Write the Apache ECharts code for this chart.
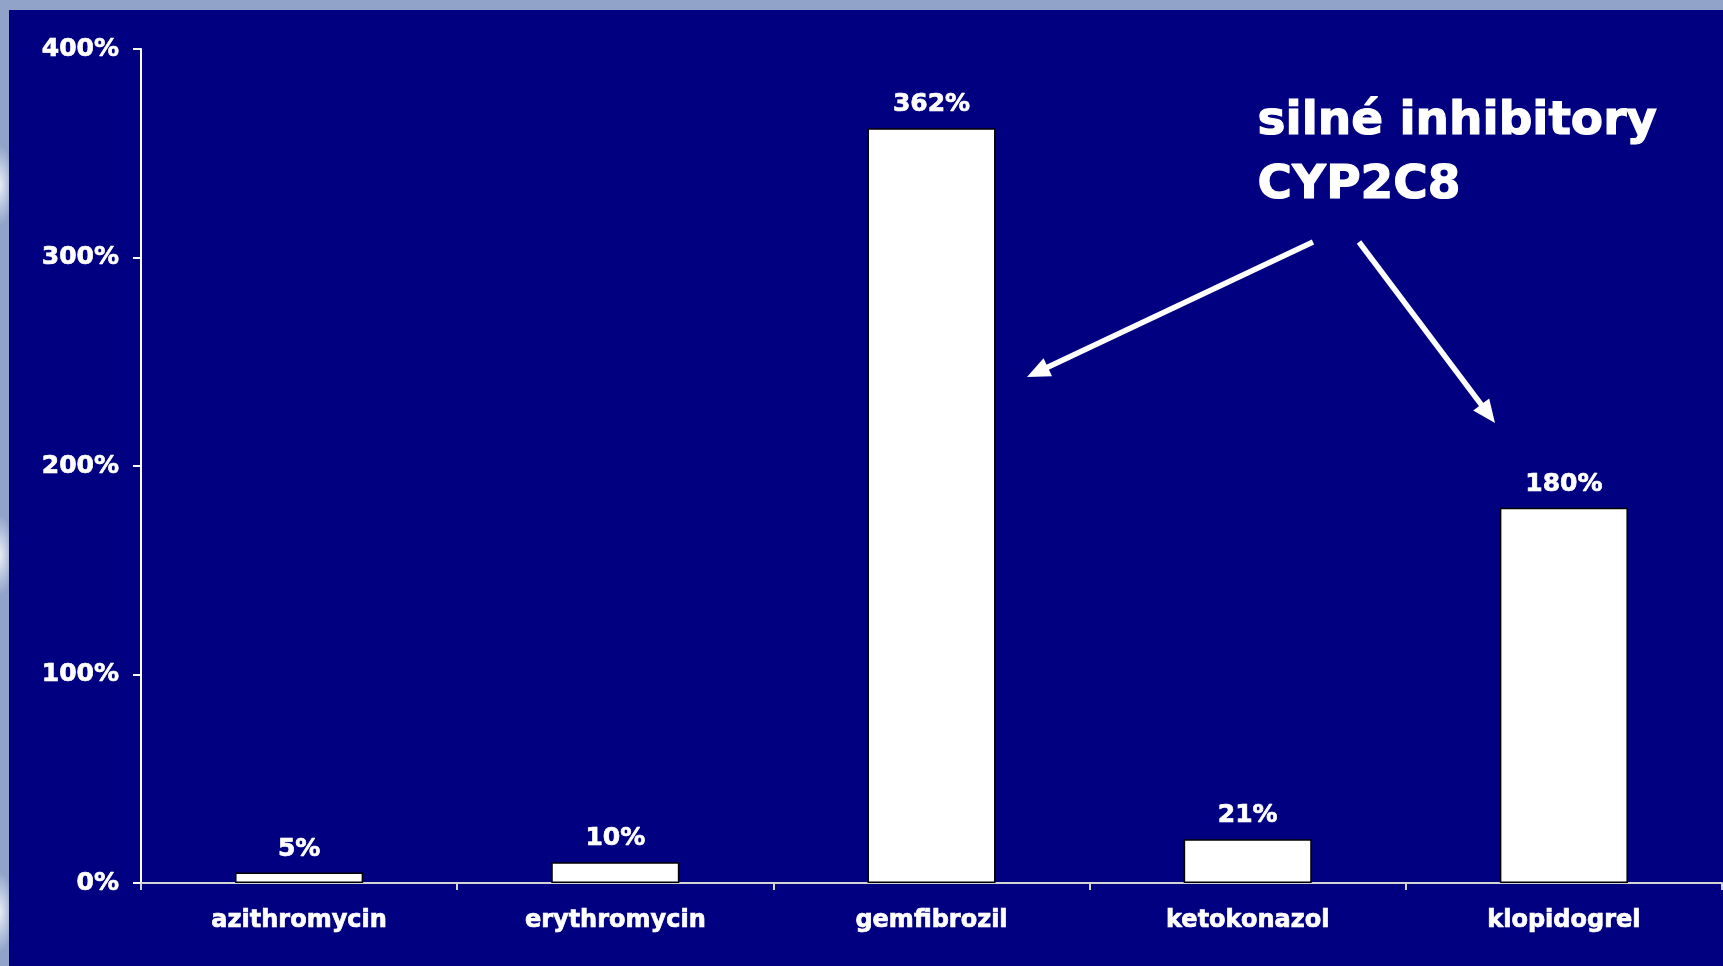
<!DOCTYPE html>
<html>
<head>
<meta charset="utf-8">
<script src="https://cdn.jsdelivr.net/npm/echarts@6/dist/echarts.min.js"></script>
<style>
  html, body { margin: 0; padding: 0; width: 1723px; height: 966px; overflow: hidden; }
  body {
    background-color: #91a3c9;
    background-image:
      radial-gradient(ellipse 14px 40px at 0px 185px, rgba(235,240,248,0.95), rgba(145,163,201,0) 100%),
      radial-gradient(ellipse 14px 40px at 0px 555px, rgba(235,240,248,0.95), rgba(145,163,201,0) 100%),
      radial-gradient(ellipse 14px 40px at 0px 912px, rgba(235,240,248,0.95), rgba(145,163,201,0) 100%);
    background-repeat: no-repeat;
  }
  #slide {
    position: absolute; left: 9px; top: 10px;
    width: 1714px; height: 956px;
    background: #000080;
  }
  #chart { width: 1714px; height: 956px; }
</style>
</head>
<body>
<div id="slide"><div id="chart"></div></div>
<script>
// Drugs on the x axis and the percentage change for each one
const drugs = ['azithromycin', 'erythromycin', 'gemfibrozil', 'ketokonazol', 'klopidogrel'];
const increasePct = [5, 10, 362, 21, 180];
const yTicks = [0, 100, 200, 300, 400];

const FONT = '"DejaVu Sans", Verdana, sans-serif';
// thin white outline to give the bold face a heavier look
const heavy = { textBorderColor: '#ffffff', textBorderWidth: 0.7 };

// Builds a straight arrow (shaft + triangular head) between two points
function arrow(x1, y1, x2, y2) {
  const dx = x2 - x1, dy = y2 - y1;
  const len = Math.sqrt(dx * dx + dy * dy);
  const ux = dx / len, uy = dy / len;
  const headLen = 23, headHalf = 10;
  const bx = x2 - ux * headLen, by = y2 - uy * headLen;
  return [
    {
      type: 'line',
      shape: { x1: x1, y1: y1, x2: bx + ux * 2, y2: by + uy * 2 },
      style: { stroke: '#ffffff', lineWidth: 5.5 }
    },
    {
      type: 'polygon',
      shape: { points: [[x2, y2], [bx - uy * headHalf, by + ux * headHalf], [bx + uy * headHalf, by - ux * headHalf]] },
      style: { fill: '#ffffff' }
    }
  ];
}

const chart = echarts.init(document.getElementById('chart'), null, { renderer: 'canvas' });

chart.setOption({
  backgroundColor: 'transparent',
  animation: false,
  grid: { left: 132, right: 1, top: 39, bottom: 83 },
  xAxis: {
    type: 'category',
    data: drugs,
    axisLine: { lineStyle: { color: '#d4d4d4', width: 2 } },
    axisTick: { show: true, length: 7, lineStyle: { color: '#d4d4d4', width: 2 } },
    axisLabel: Object.assign({
      color: '#ffffff', fontFamily: FONT, fontWeight: 'bold', fontSize: 24, margin: 26
    }, heavy),
    splitLine: { show: false }
  },
  yAxis: {
    type: 'value',
    min: yTicks[0],
    max: yTicks[yTicks.length - 1],
    interval: 100,
    axisLine: { show: true, lineStyle: { color: '#ffffff', width: 2 } },
    axisTick: { show: true, length: 8, lineStyle: { color: '#ffffff', width: 2 } },
    axisLabel: Object.assign({
      color: '#ffffff', fontFamily: FONT, fontWeight: 'bold', fontSize: 25, margin: 22,
      formatter: v => v + '%'
    }, heavy),
    splitLine: { show: false }
  },
  series: [{
    type: 'bar',
    data: increasePct,
    barWidth: '40.5%',
    itemStyle: { color: '#ffffff', borderColor: '#000000', borderWidth: 1.5 },
    label: Object.assign({
      show: true, position: 'top', distance: 11,
      color: '#ffffff', fontFamily: FONT, fontWeight: 'bold', fontSize: 25,
      formatter: p => p.value + '%'
    }, heavy)
  }],
  graphic: [
    {
      type: 'text',
      left: 1248, top: 80,
      style: {
        text: 'silné inhibitory\nCYP2C8',
        fill: '#ffffff',
        font: 'bold 47px ' + FONT,
        lineHeight: 64,
        stroke: '#ffffff',
        lineWidth: 1.2
      }
    }
  ].concat(arrow(1304, 232, 1018, 367), arrow(1350, 232, 1486, 413))
});
</script>
</body>
</html>
